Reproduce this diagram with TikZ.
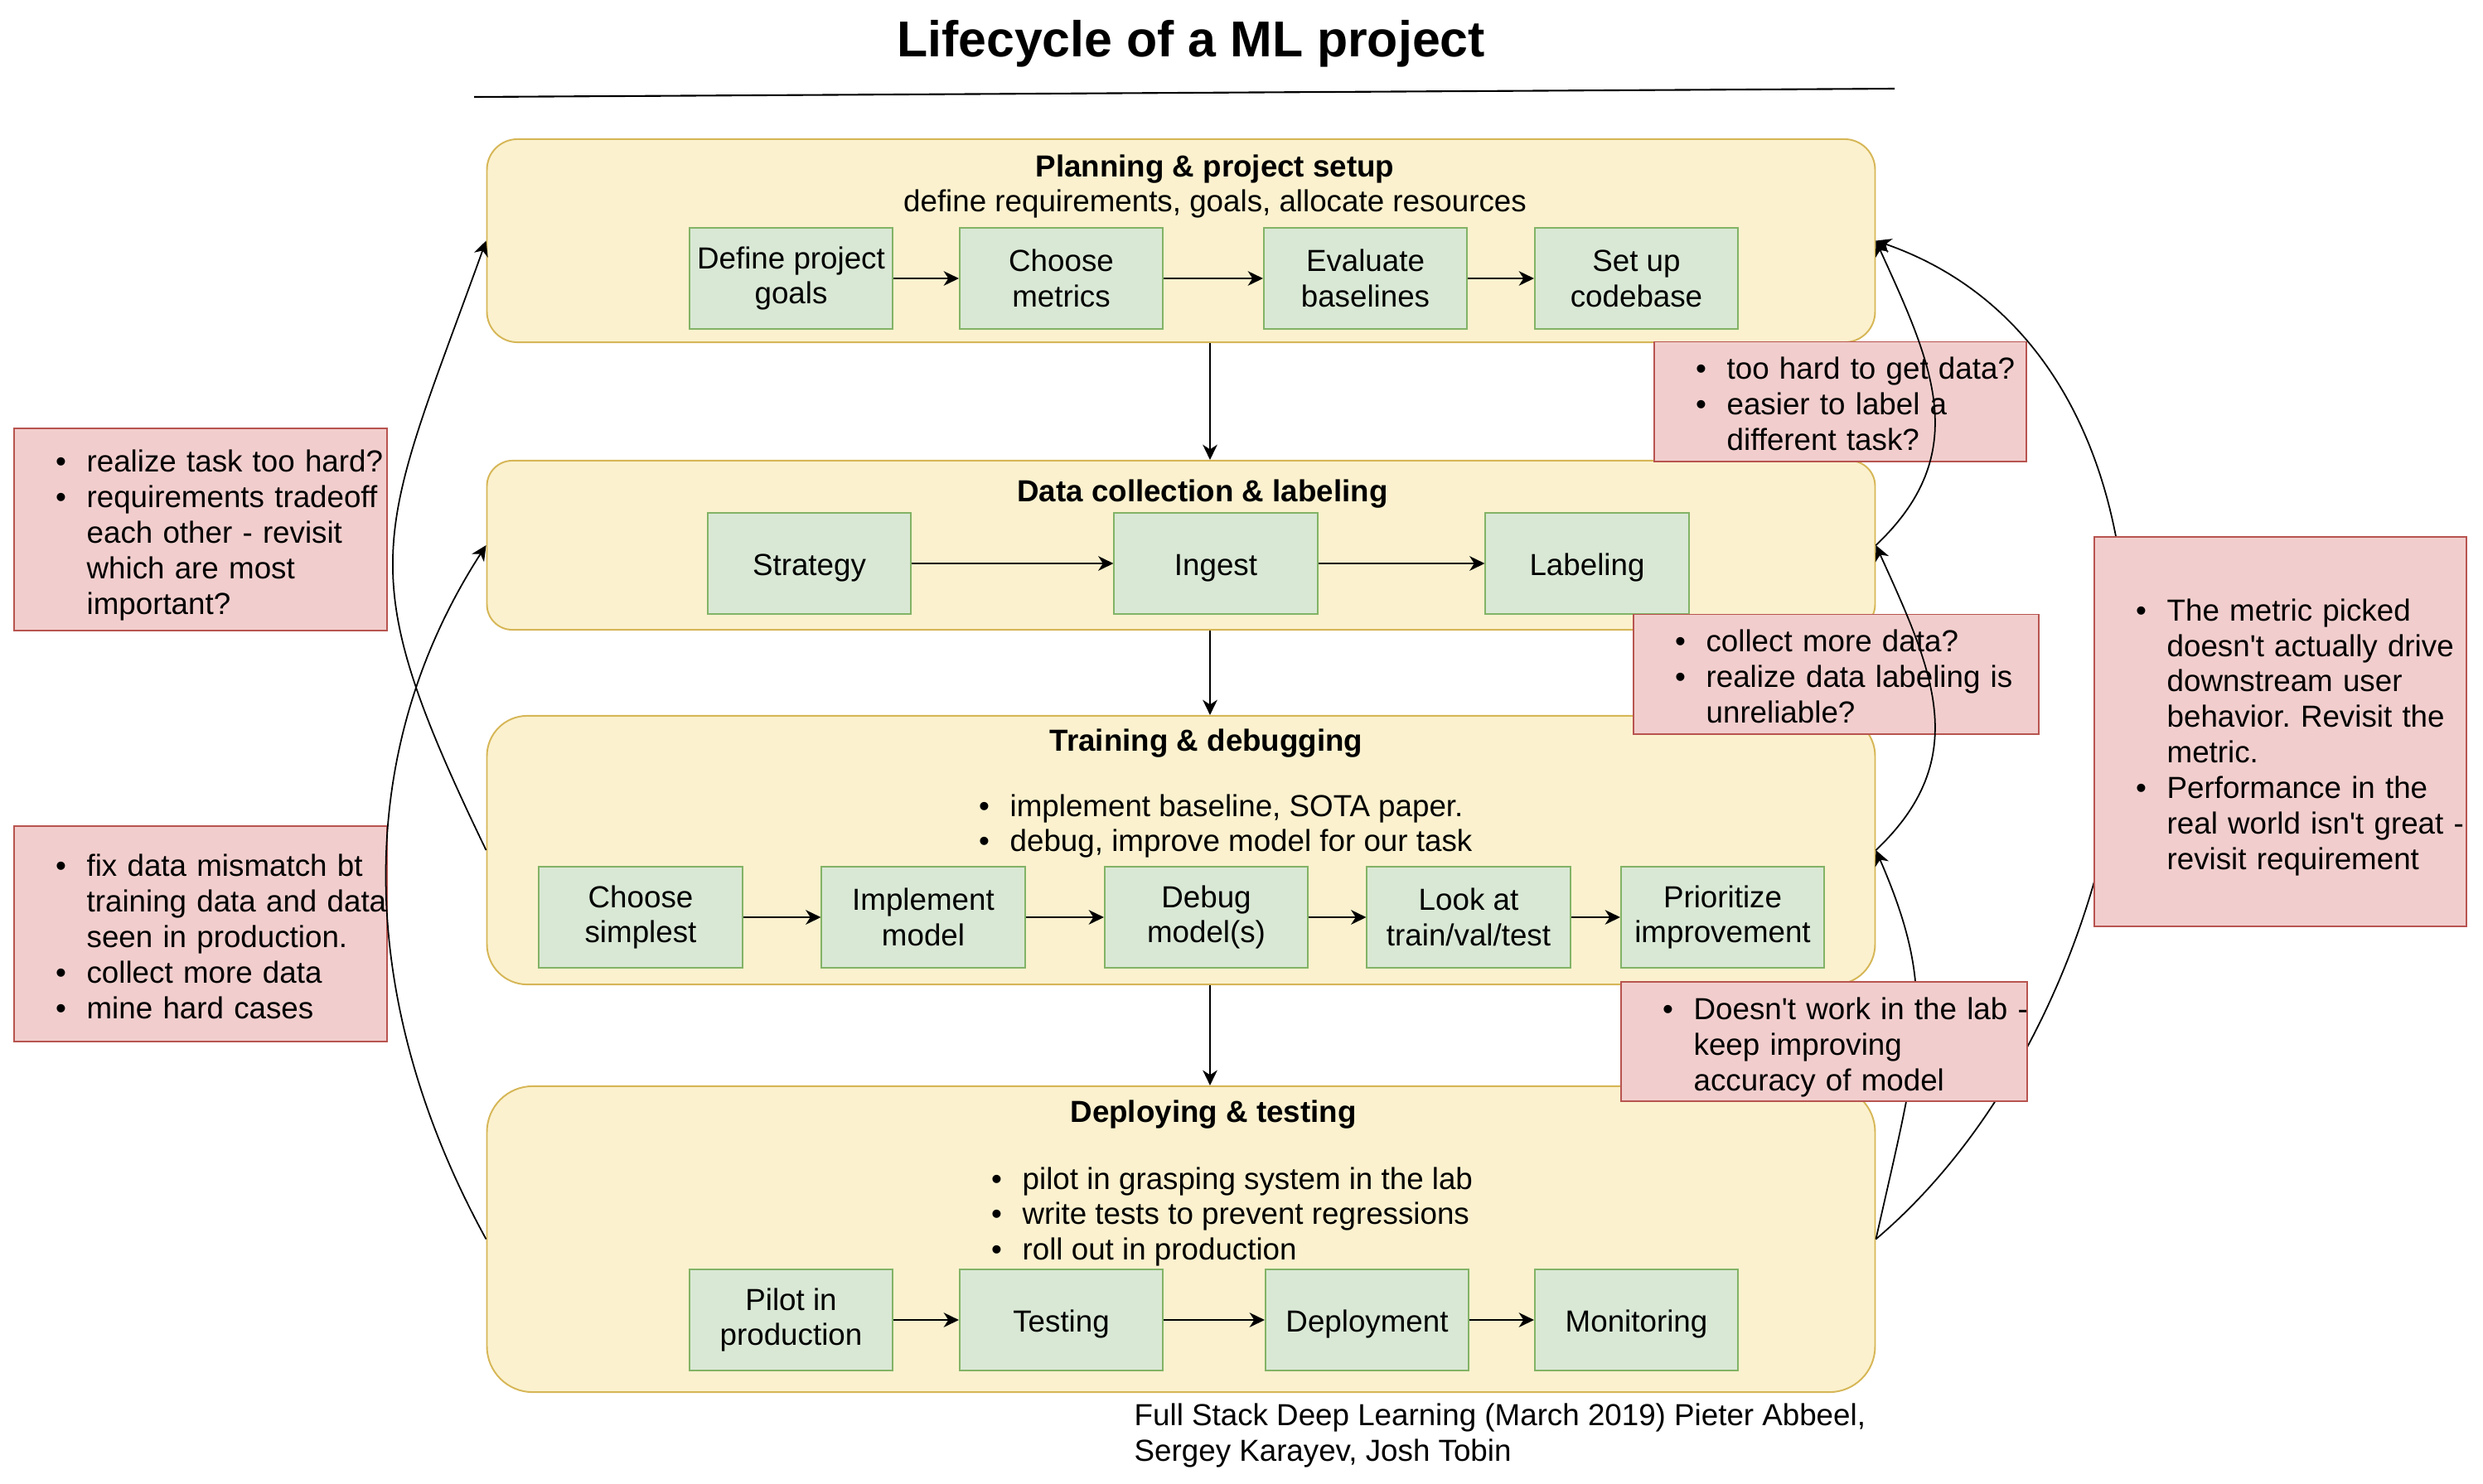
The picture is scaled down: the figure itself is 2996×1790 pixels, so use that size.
\documentclass[tikz,border=0pt]{standalone}
\usepackage{fontspec}
\newfontfamily\drawfont{Liberation Sans}
\usetikzlibrary{arrows.meta}

\definecolor{stagefill}{RGB}{251,241,206}
\definecolor{stageline}{RGB}{214,182,86}
\definecolor{taskfill}{RGB}{217,232,213}
\definecolor{taskline}{RGB}{130,179,102}
\definecolor{remarkfill}{RGB}{241,206,205}
\definecolor{remarkline}{RGB}{184,84,80}

\newcommand{\bodysize}{\drawfont\fontsize{10.45}{12.2}\selectfont\frenchspacing}
\newcommand{\bulletlist}[2][0pt]{%
  \begin{tabular}[t]{@{\hspace{#1}}l@{\hspace{7pt}}l@{}}#2\end{tabular}}

\tikzset{
  stage/.style={draw=stageline, fill=stagefill, line width=0.55pt, minimum width=16.74cm},
  task/.style={draw=taskline, fill=taskfill, line width=0.55pt, align=center,
    minimum width=2.45cm, minimum height=1.22cm, inner sep=0pt,
    execute at begin node=\rule{0pt}{10.4pt}},
  remark/.style={draw=remarkline, fill=remarkfill, line width=0.55pt, align=left, inner sep=0pt,
    execute at begin node=\rule{0pt}{12.9pt}},
  flow/.style={-{Stealth[length=5.2pt, width=5pt, inset=1.6pt]}, line width=0.6pt},
  back/.style={flow, line width=0.5pt},
}

\begin{document}
\begin{tikzpicture}[x=0.01cm, y=-0.01cm, every node/.style={font=\bodysize}]
    \useasboundingbox (0,0) rectangle (2996,1790);

    % Title and rule under it
    \node[font=\drawfont\fontsize{17.3}{20}\selectfont\bfseries, anchor=base] (title) at (1437,68) {Lifecycle of a ML project};
    \draw[line width=0.6pt] (572,117) -- (2286,107);

    % Draw the four stages
    \node[stage, minimum height=2.45cm, rounded corners=10.5pt] (plan) at (1425,290.5) {};
    \node[stage, minimum height=2.04cm, rounded corners=8.7pt] (data) at (1425,658) {};
    \node[stage, minimum height=3.24cm, rounded corners=13.8pt] (train) at (1425,1026) {};
    \node[stage, minimum height=3.69cm, rounded corners=15.7pt] (deploy) at (1425,1495.5) {};

    \node[font=\bodysize\bfseries, anchor=base] (plan title) at (1466,213) {Planning \& project setup};
    \node[anchor=base] (plan sub) at (1466,255) {define requirements, goals, allocate resources};
    \node[font=\bodysize\bfseries, anchor=base] (data title) at (1451,605) {Data collection \& labeling};
    \node[font=\bodysize\bfseries, anchor=base] (train title) at (1455.5,906) {Training \& debugging};
    \node[font=\bodysize\bfseries, anchor=base] (deploy title) at (1464,1354) {Deploying \& testing};

    \node[anchor=base west, inner sep=0pt] (train list) at (1180.5,985)
        {\bulletlist{\textbullet & implement baseline, SOTA paper.\\
                     \textbullet & debug, improve model for our task}};
    \node[anchor=base west, inner sep=0pt] (deploy list) at (1195.5,1435)
        {\bulletlist{\textbullet & pilot in grasping system in the lab\\
                     \textbullet & write tests to prevent regressions\\
                     \textbullet & roll out in production}};

    % Planning steps
    \node[task] (goals) at (954.5,336) {Define project\\goals};
    \node[task] (metrics) at (1280.5,336) {Choose\\metrics};
    \node[task] (baselines) at (1647.5,336) {Evaluate\\baselines};
    \node[task] (codebase) at (1974.5,336) {Set up\\codebase};
    \draw[flow] (goals) -- (metrics);
    \draw[flow] (metrics) -- (baselines);
    \draw[flow] (baselines) -- (codebase);

    % Data steps
    \node[task] (strategy) at (976.5,680) {Strategy};
    \node[task] (ingest) at (1467,680) {Ingest};
    \node[task] (labeling) at (1915,680) {Labeling};
    \draw[flow] (strategy) -- (ingest);
    \draw[flow] (ingest) -- (labeling);

    % Training steps
    \node[task] (simplest) at (773,1107) {Choose\\simplest};
    \node[task] (implement) at (1114,1107) {Implement\\model};
    \node[task] (debug) at (1455.5,1107) {Debug\\model(s)};
    \node[task] (inspect) at (1772,1107) {Look at\\train/val/test};
    \node[task] (prioritize) at (2078.5,1107) {Prioritize\\improvement};
    \draw[flow] (simplest) -- (implement);
    \draw[flow] (implement) -- (debug);
    \draw[flow] (debug) -- (inspect);
    \draw[flow] (inspect) -- (prioritize);

    % Deploying steps
    \node[task] (pilot) at (954.5,1593) {Pilot in\\production};
    \node[task] (testing) at (1280.5,1593) {Testing};
    \node[task] (deployment) at (1649.5,1593) {Deployment};
    \node[task] (monitoring) at (1974.5,1593) {Monitoring};
    \draw[flow] (pilot) -- (testing);
    \draw[flow] (testing) -- (deployment);
    \draw[flow] (deployment) -- (monitoring);

    % Stage to stage
    \coordinate (spine) at (1460,0);
    \draw[flow] (plan.south -| spine) -- (data.north -| spine);
    \draw[flow] (data.south -| spine) -- (train.north -| spine);
    \draw[flow] (train.south -| spine) -- (deploy.north -| spine);

    % Notes under the loops
    \node[remark, text width=4.5cm, minimum height=2.44cm] (task hard) at (242,639)
        {\bulletlist[14.3pt]{\textbullet & realize task too hard?\\
                             \textbullet & requirements tradeoff\\
                                         & each other - revisit\\
                                         & which are most\\
                                         & important?}};
    \node[remark, text width=4.5cm, minimum height=2.6cm] (mismatch) at (242,1127)
        {\bulletlist[14.3pt]{\textbullet & fix data mismatch bt\\
                                         & training data and data\\
                                         & seen in production.\\
                             \textbullet & collect more data\\
                             \textbullet & mine hard cases}};
    \node[remark, text width=4.49cm, minimum height=1.43cm] (hard data) at (2220.5,484.5)
        {\bulletlist[14.3pt]{\textbullet & too hard to get data?\\
                             \textbullet & easier to label a\\
                                         & different task?}};
    \node[remark, text width=4.89cm, minimum height=1.43cm] (more data) at (2215.5,813.5)
        {\bulletlist[14.3pt]{\textbullet & collect more data?\\
                             \textbullet & realize data labeling is\\
                                         & unreliable?}};

    % Feedback loops
    \draw[back] (train.west) .. controls (419,679) and (456,653) .. (plan.west);
    \draw[back] (deploy.west) .. controls (436,1221) and (417,921) .. (data.west);
    \draw[back] (data.east) .. controls (2382,546) and (2331,439) .. (plan.east);
    \draw[back] (train.east) .. controls (2382,914) and (2331,807) .. (data.east);
    \draw[back] (deploy.east) .. controls (2316,1261) and (2339,1200) .. (train.east);
    \draw[back] (deploy.east) .. controls (2621,1192) and (2707,445) .. (plan.east);

    \node[remark, text width=4.9cm, minimum height=1.38cm] (lab) at (2201,1257)
        {\bulletlist[14.3pt]{\textbullet & Doesn't work in the lab -\\
                                         & keep improving\\
                                         & accuracy of model}};
    \node[remark, text width=4.49cm, minimum height=4.7cm] (metric) at (2751.5,883)
        {\bulletlist[14.3pt]{\textbullet & The metric picked\\
                                         & doesn't actually drive\\
                                         & downstream user\\
                                         & behavior. Revisit the\\
                                         & metric.\\
                             \textbullet & Performance in the\\
                                         & real world isn't great -\\
                                         & revisit requirement}};

    % Credits
    \node[anchor=base west, align=left, inner sep=0pt] (credits) at (1368,1763)
        {Full Stack Deep Learning (March 2019) Pieter Abbeel,\\Sergey Karayev, Josh Tobin};
\end{tikzpicture}
\end{document}
